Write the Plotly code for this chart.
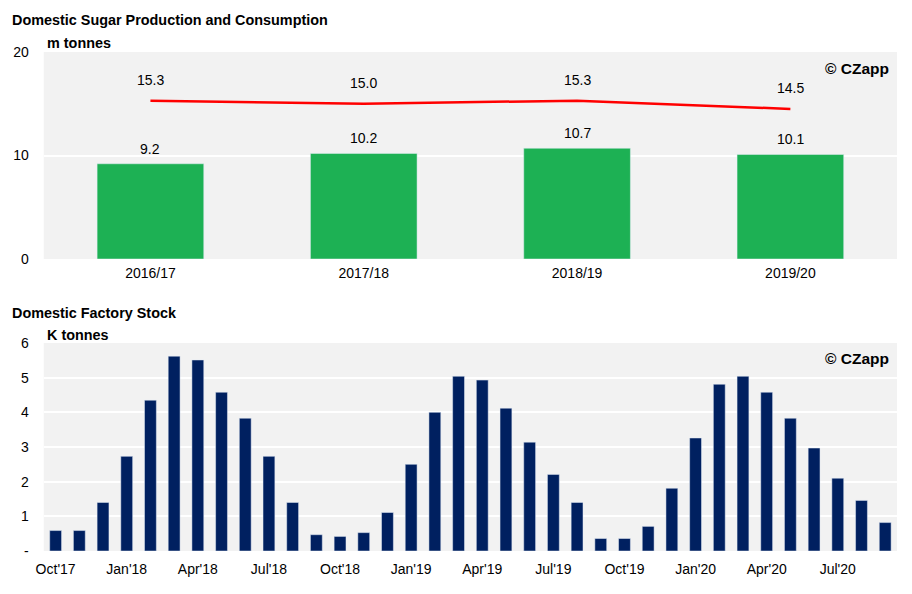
import plotly.graph_objects as go

seasons = ["2016/17", "2017/18", "2018/19", "2019/20"]
production = [9.2, 10.2, 10.7, 10.1]
consumption = [15.3, 15.0, 15.3, 14.5]

months = ["Oct'17", "Nov'17", "Dec'17", "Jan'18", "Feb'18", "Mar'18", "Apr'18", "May'18", "Jun'18",
          "Jul'18", "Aug'18", "Sep'18", "Oct'18", "Nov'18", "Dec'18", "Jan'19", "Feb'19", "Mar'19",
          "Apr'19", "May'19", "Jun'19", "Jul'19", "Aug'19", "Sep'19", "Oct'19", "Nov'19", "Dec'19",
          "Jan'20", "Feb'20", "Mar'20", "Apr'20", "May'20", "Jun'20", "Jul'20", "Aug'20", "Sep'20"]
stock = [0.59, 0.59, 1.40, 2.73, 4.35, 5.62, 5.51, 4.58, 3.83, 2.73, 1.40, 0.47,
         0.42, 0.53, 1.11, 2.50, 4.00, 5.04, 4.93, 4.12, 3.14, 2.21, 1.40, 0.36,
         0.36, 0.71, 1.81, 3.26, 4.81, 5.04, 4.58, 3.83, 2.97, 2.10, 1.46, 0.82]
month_ticks = months[::3]
bottom_yticks = [0, 1, 2, 3, 4, 5, 6]
bottom_yticklabels = ["-", "1", "2", "3", "4", "5", "6"]

FONT = "Liberation Sans, Arial, sans-serif"
W, H = 912, 594
fig = go.Figure()

fig.add_trace(go.Bar(x=seasons, y=production, marker_color="#1DB154", width=0.5,
                     xaxis="x", yaxis="y", showlegend=False, hoverinfo="x+y"))
fig.add_trace(go.Scatter(x=seasons, y=consumption, mode="lines",
                         line=dict(color="#FF0000", width=2.5),
                         xaxis="x", yaxis="y", showlegend=False))
fig.add_trace(go.Bar(x=months, y=stock, marker_color="#002060", width=0.5,
                     xaxis="x2", yaxis="y2", showlegend=False))

tickfont = dict(size=14, color="black", family=FONT)
axis_common = dict(showline=False, zeroline=False, tickfont=tickfont, automargin=False)

annotations = []
# data labels
for s, v in zip(seasons, production):
    annotations.append(dict(x=s, y=v, xref="x", yref="y", text=f"{v:.1f}", showarrow=False,
                            yshift=15, font=dict(size=14, color="black")))
for s, v in zip(seasons, consumption):
    annotations.append(dict(x=s, y=v, xref="x", yref="y", text=f"{v:.1f}", showarrow=False,
                            yshift=21, font=dict(size=14, color="black")))

def px(x, y):
    return x / W, 1 - y / H

texts = [
    ("<b>Domestic Sugar Production and Consumption</b>", 10, 20, 14.4, "left"),
    ("<b>m tonnes</b>", 45, 43, 14.4, "left"),
    ("<b>Domestic Factory Stock</b>", 10, 313, 14.4, "left"),
    ("<b>K tonnes</b>", 45, 335, 14.4, "left"),
    ("<b>© CZapp</b>", 891, 69, 15.5, "right"),
    ("<b>© CZapp</b>", 891, 358, 15.5, "right"),
]
for t, x, y, sz, anc in texts:
    xx, yy = px(x, y)
    annotations.append(dict(text=t, x=xx, y=yy, xref="paper", yref="paper", showarrow=False,
                            font=dict(size=sz, color="black"), xanchor=anc, yanchor="middle"))

fig.update_layout(
    width=W, height=H,
    margin=dict(l=0, r=0, t=0, b=0, autoexpand=False),
    paper_bgcolor="white", plot_bgcolor="#F2F2F2",
    font=dict(family=FONT, color="black"),
    xaxis=dict(domain=[0.048, 0.9836], anchor="y", showgrid=False, ticks="",
               ticklabelstandoff=4, **axis_common),
    yaxis=dict(domain=[1 - 259 / H, 1 - 52 / H], anchor="x", range=[0, 20], tickvals=[0, 10, 20],
               showgrid=True, gridcolor="white", gridwidth=2, ticklabelstandoff=14, **axis_common),
    xaxis2=dict(domain=[0.048, 0.9836], anchor="y2", showgrid=False, tickvals=month_ticks,
                ticks="", ticklabelstandoff=8, **axis_common),
    yaxis2=dict(domain=[1 - 551 / H, 1 - 343 / H], anchor="x2", range=[0, 6], tickvals=bottom_yticks,
                ticktext=bottom_yticklabels, showgrid=True, gridcolor="white", gridwidth=2,
                ticklabelstandoff=14, **axis_common),
    annotations=annotations,
)

fig.write_html("out.html")
